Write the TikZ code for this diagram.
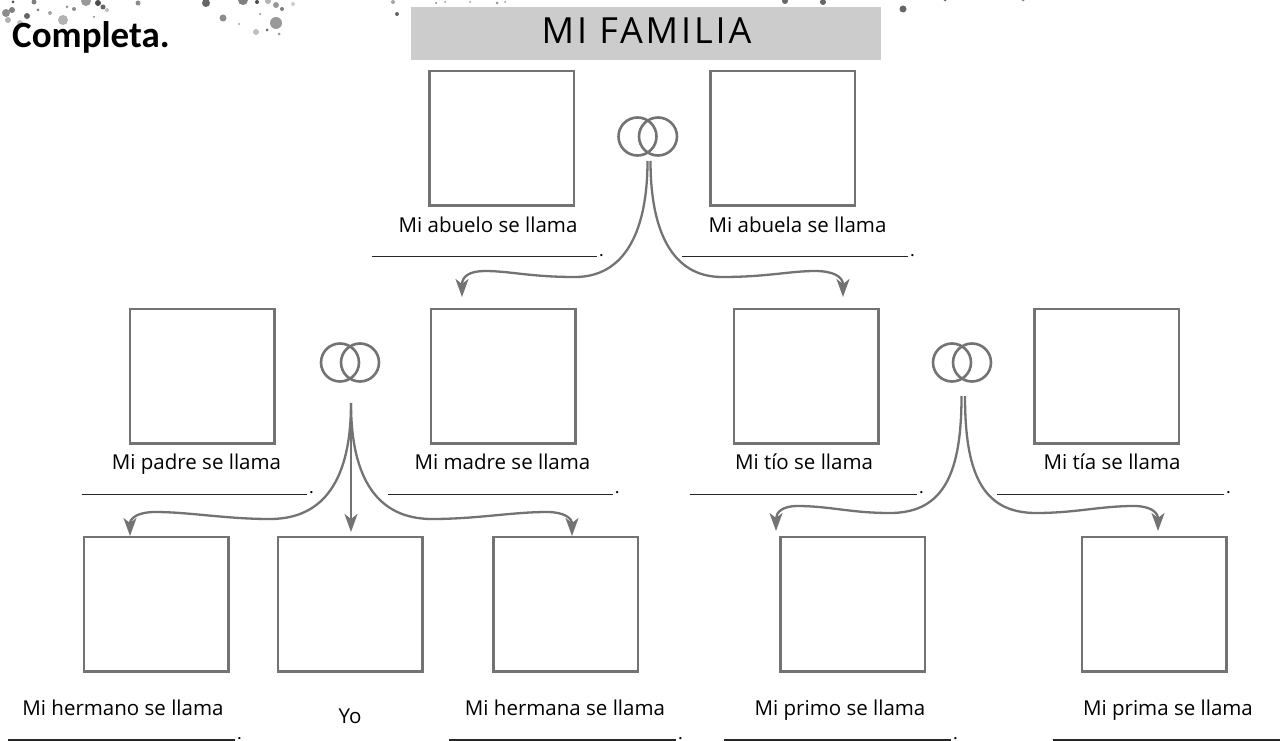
\documentclass[tikz,border=0pt]{standalone}
\usepackage{fontspec}
\setmainfont{Open Sans}
\newfontfamily\boldf{Carlito}
\newfontfamily\titlef[LetterSpace=8]{Open Sans}
\usetikzlibrary{arrows.meta}
\definecolor{ln}{gray}{0.45}
\tikzset{
  x=1pt,y=-1pt,
  photo/.style={draw=ln,line width=2.1pt,outer sep=0,fill=white,minimum width=144.5pt,minimum height=134.5pt,inner sep=0,anchor=north west},
  ring/.style={circle,draw=ln,line width=2.6pt,minimum size=38pt,outer sep=0,inner sep=0},
  link/.style={draw=ln,line width=2.3pt,-{Stealth[length=18pt,width=13pt,inset=5pt]}},
  caption/.style={font=\fontsize{20.5}{22}\selectfont,text=black,inner sep=0,anchor=base},
  blank/.style={draw=black!85,line width=1.5pt},
  stop/.style={font=\bfseries\fontsize{13}{15}\selectfont,inner sep=0,anchor=base west},
}
\newcommand{\blankline}[4]{%
  \coordinate (#1a) at (#2,#4); \coordinate (#1b) at (#3,#4);
  \draw[blank] (#1a) -- (#1b);
  \node[stop] (#1d) at ([xshift=2.5pt,yshift=0.5pt]#1b) {.};}
\begin{document}
\begin{tikzpicture}
\useasboundingbox (0,0) rectangle (1280,741);
\fill[white] (0,0) rectangle (1280,741);
% splatter
\foreach \x/\y/\r/\o in {6/13/4/.45,12/10/3/.5,27/16/3/.6,13/2/1.5/.7,34/2/2.5/.5,38/10/1.5/.5,50/13/2/.35,63/20/5/.3,20/23/3/.25,8/20/3/.3,67/7/1.5/.4,74/9/2/.45,86/1/5/.4,98/3/3/.7,103/7/2.5/.6,107/10/2/.25,94/17/1/.5,138/3/2.5/.45,206/3/4/.6,223/18/3.5/.45,243/0/5/.5,257/2/2/.7,268/1/3/.3,276/5/3/.4,282/9/2/.5,293/4/2/.2,276/23/6/.4,256/32/3/.25,267/30/1.5/.6,279/34/1.5/.4,239/24/1/.4,260/14/1/.5,397/14/2/.6,393/2/2/.35,436/3/1/.5,445/2/1/.4,470/2/1/.4,497/3/1.5/.4,505/2/1/.4,785/1/3/.6,823/2/3/.6,903/9/3.5/.6,945/0/1.5/.6,1023/0/1.5/.5}
  \fill[black,opacity=\o] (\x,\y) circle (\r);
% title
\node[fill=black!20,minimum width=470pt,minimum height=53pt,inner sep=0,outer sep=0,anchor=north west] (title) at (411,7) {};
\node[font=\titlef\fontsize{36}{40}\selectfont,inner sep=0,anchor=base] (titletext) at (646.5,44) {MI FAMILIA};
\node[font=\boldf\bfseries\fontsize{37}{40}\selectfont,inner sep=0,anchor=base west] (complete) at (12,48) {Completa.};
% photo boxes
\node[photo] (abuelo) at (429.5,71) {};
\node[photo] (abuela) at (710.5,71) {};
\node[photo] (padre) at (130,309) {};
\node[photo] (madre) at (431,309) {};
\node[photo] (tio) at (734,309) {};
\node[photo] (tia) at (1034.5,309) {};
\node[photo] (hermano) at (84,537) {};
\node[photo] (yo) at (278,537) {};
\node[photo] (hermana) at (493.5,537) {};
\node[photo] (primo) at (780.5,537) {};
\node[photo] (prima) at (1082,537) {};
% rings
\node[ring] (r1a) at (637.5,136.5) {};
\node[ring] (r1b) at (658,136.5) {};
\node[ring] (r2a) at (340,362.5) {};
\node[ring] (r2b) at (360,362.5) {};
\node[ring] (r3a) at (952,362.5) {};
\node[ring] (r3b) at (972,362.5) {};
% connector ends
\coordinate (s1l) at (647.5,161);
\coordinate (s1r) at (650.5,161);
\coordinate (s2) at (351,403);
\coordinate (s3l) at (961.5,396);
\coordinate (s3r) at (965,396);
\coordinate (e1l) at (462,297);
\coordinate (e1r) at (843,297);
\coordinate (e2l) at (130,536);
\coordinate (e2m) at (351,532);
\coordinate (e2r) at (572,536);
\coordinate (e3l) at (776,531);
\coordinate (e3r) at (1158,531);
% connectors
\draw[link] (s1l) .. controls +(0,70) and (625,277) .. (575,277) .. controls (530,277) and (510,271) .. (485,271) .. controls (470,271) and (462,276) .. (e1l);
\draw[link] (s1r) .. controls +(0,70) and (672,277) .. (722,277) .. controls (767,277) and (790,271) .. (815,271) .. controls (832,271) and (843,276) .. (e1r);
\draw[link] (s2) .. controls +(0,75) and (325,519) .. (270,519) .. controls (225,519) and (190,512) .. (155,512) .. controls (138,512) and (130,518) .. (e2l);
\draw[link] (s2) -- (e2m);
\draw[link] (s2) .. controls +(0,75) and (377,519) .. (432,519) .. controls (477,519) and (512,512) .. (547,512) .. controls (564,512) and (572,518) .. (e2r);
\draw[link] (s3l) .. controls +(0,75) and (945,513) .. (890,513) .. controls (850,513) and (830,506) .. (797,506) .. controls (783,506) and (776,512) .. (e3l);
\draw[link] (s3r) .. controls +(0,75) and (981,513) .. (1036,513) .. controls (1076,513) and (1100,506) .. (1134,506) .. controls (1150,506) and (1158,512) .. (e3r);
% captions
\node[caption] (c1) at (488,232) {Mi abuelo se llama};
\node[caption] (c2) at (797.5,232) {Mi abuela se llama};
\node[caption] (c3) at (196.5,469.5) {Mi padre se llama};
\node[caption] (c4) at (502.5,469.5) {Mi madre se llama};
\node[caption] (c5) at (804,469.5) {Mi tío se llama};
\node[caption] (c6) at (1112,469.5) {Mi tía se llama};
\node[caption] (c7) at (123,715) {Mi hermano se llama};
\node[caption] (c8) at (350,723) {Yo};
\node[caption] (c9) at (565,715) {Mi hermana se llama};
\node[caption] (c10) at (840,715) {Mi primo se llama};
\node[caption] (c11) at (1168,715) {Mi prima se llama};
% blanks
\blankline{b1}{372}{597}{256.7}
\blankline{b2}{682}{908}{256.7}
\blankline{b3}{81.5}{307}{494.3}
\blankline{b4}{388}{612.6}{494.3}
\blankline{b5}{689.6}{917}{494.3}
\blankline{b6}{997}{1224}{494.3}
\blankline{b7}{8}{235}{739.8}
\blankline{b8}{449}{676}{739.8}
\blankline{b9}{724.4}{951}{739.8}
\coordinate (b10a) at (1052.6,739.8);
\coordinate (b10b) at (1280,739.8);
\draw[blank] (b10a) -- (b10b);
\end{tikzpicture}
\end{document}
